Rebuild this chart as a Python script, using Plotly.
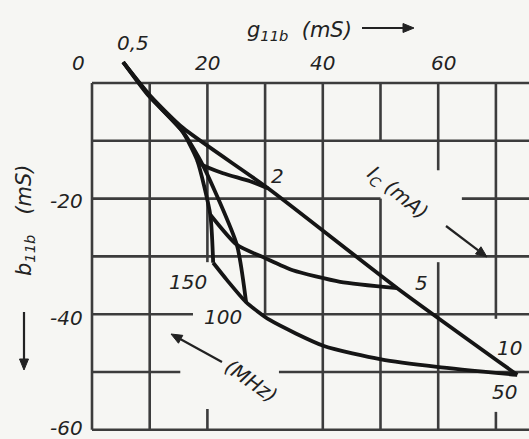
import math
import plotly.graph_objects as go

# ---- data (g11b, b11b in mS) ----
# constant-frequency curves, points from Ic = 0.5 mA to 10 mA
g_f50 = [5.4, 10.1, 15.8, 30.5, 52.9, 73.7]
b_f50 = [3.6, -2.2, -7.8, -18.2, -35.5, -50.5]
g_f100 = [5.4, 10.1, 15.8, 19.2, 25.1, 26.7]
b_f100 = [3.6, -2.4, -8.5, -14.2, -28.0, -37.9]
g_f150 = [5.4, 9.7, 15.6, 18.2, 20.5, 21.0]
b_f150 = [3.6, -2.1, -8.3, -13.3, -22.8, -31.1]
# constant-current curves, from 150 MHz to 50 MHz
g_i2 = [18.2, 19.2, 22.7, 27.4, 30.5]
b_i2 = [-13.3, -14.2, -15.6, -17.0, -18.2]
g_i5 = [20.5, 25.1, 30.0, 34.8, 43.0, 52.9]
b_i5 = [-22.8, -28.0, -30.3, -32.4, -34.4, -35.5]
g_i10 = [21.0, 23.4, 26.7, 30.8, 40.2, 50.1, 59.8, 73.7]
b_i10 = [-31.1, -34.1, -37.9, -41.0, -45.5, -47.8, -49.1, -50.5]

x_ticks = [0, 20, 40, 60]
x_tick_labels = ["0", "20", "40", "60"]
y_ticks = [-20, -40, -60]
y_tick_labels = ["-20", "-40", "-60"]

current_labels = ["0,5", "2", "5", "10"]
freq_labels = ["50", "100", "150"]

# ---- layout geometry (pixel mapping) ----
W, H = 529, 439
X0PX, SX = 92.0, 5.77    # px of g=0, px per mS
Y0PX, SY = 83.0, 5.78    # px of b=0, px per mS
XR = [(0 - X0PX) / SX, (W - X0PX) / SX]
YR = [-(H - Y0PX) / SY, Y0PX / SY]


def gx(px):
    return (px - X0PX) / SX


def by(py):
    return -(py - Y0PX) / SY


INK = "#151515"
GRID = "#3c3c3c"
TXT = "#222222"
FONT = "DejaVu Sans"

fig = go.Figure()

for g, b in [(g_f50, b_f50), (g_f100, b_f100), (g_f150, b_f150),
             (g_i2, b_i2), (g_i5, b_i5), (g_i10, b_i10)]:
    fig.add_trace(go.Scatter(x=g, y=b, mode="lines",
                             line=dict(color=INK, width=3.8, shape="spline", smoothing=0.6),
                             showlegend=False, hoverinfo="skip"))

# grid segments (some interrupted by lettering, as in the original)
xe = XR[1]
segs = [
    # verticals
    (0, 0, 0, -60), (10, 0, 10, -60), (20, 0, 20, -31), (20, -56.4, 20, -60),
    (30, 0, 30, -40), (40, 0, 40, -60), (50, 0, 50, -10.2), (50, -20, 50, -60),
    (60, 0, 60, -15.1), (60, -31, 60, -60), (70, 0, 70, -40.8), (70, -56.9, 70, -60),
    # horizontals
    (0, 0, xe, 0), (0, -10, xe, -10), (0, -20, 50, -20), (64.1, -20, xe, -20),
    (0, -30, xe, -30), (0, -40, 17.5, -40), (29.5, -40, xe, -40),
    (0, -50, 15.3, -50), (32.4, -50, xe, -50), (0, -60, xe, -60),
]
shapes = [dict(type="line", x0=a, y0=b, x1=c, y1=d, xref="x", yref="y",
               line=dict(color=GRID, width=2.6), layer="below") for a, b, c, d in segs]


def arrow(hx, hy, tx, ty, L=11, hw=4.5):
    """arrow drawn as shapes, head at pixel (hx,hy), tail at (tx,ty)"""
    d = math.hypot(hx - tx, hy - ty)
    ux, uy = (hx - tx) / d, (hy - ty) / d
    bx, byy = hx - ux * L, hy - uy * L
    shapes.append(dict(type="line", x0=gx(tx), y0=by(ty), x1=gx(bx), y1=by(byy),
                       xref="x", yref="y", line=dict(color=TXT, width=2.2)))
    p1 = (bx - uy * hw, byy + ux * hw)
    p2 = (bx + uy * hw, byy - ux * hw)
    path = "M {} {} L {} {} L {} {} Z".format(gx(hx), by(hy), gx(p1[0]), by(p1[1]),
                                              gx(p2[0]), by(p2[1]))
    shapes.append(dict(type="path", path=path, xref="x", yref="y",
                       fillcolor=TXT, line=dict(color=TXT, width=1)))


ann = []


def txt(t, px, py, size=20, angle=0):
    ann.append(dict(text=t, x=gx(px), y=by(py), xref="x", yref="y",
                    showarrow=False, textangle=angle,
                    font=dict(family=FONT, size=size, color=TXT, style="italic"),
                    xanchor="center", yanchor="middle"))


# axis tick labels
txt(x_tick_labels[0], 78, 63)
for lab, pxx in zip(x_tick_labels[1:], [207, 322, 443]):
    txt(lab, pxx, 63)
for lab, pyy in zip(y_tick_labels, [201, 318, 428]):
    txt(lab, 66, pyy)

# axis titles
txt("g<sub>11b</sub>  (mS)", 299, 31, size=21)
arrow(414, 28, 362, 28)
txt("b<sub>11b</sub>   (mS)", 25, 220, size=21, angle=-90)
arrow(24, 370, 24, 312)

# curve labels
txt(current_labels[0], 133, 43)
txt(current_labels[1], 277, 176)
txt(current_labels[2], 421, 283)
txt(current_labels[3], 509, 348)
txt(freq_labels[0], 504, 392)
txt(freq_labels[1], 223, 317)
txt(freq_labels[2], 188, 282)

txt("I<sub>C</sub> (mA)", 397, 193, angle=39)
arrow(487, 257, 446, 226)
txt("(MHz)", 251, 381, angle=35)
arrow(171, 334, 222, 362)

fig.update_layout(
    width=W, height=H, margin=dict(l=0, r=0, t=0, b=0),
    paper_bgcolor="#f6f6f3", plot_bgcolor="#f6f6f3",
    xaxis=dict(range=XR, visible=False, fixedrange=True),
    yaxis=dict(range=YR, visible=False, fixedrange=True),
    shapes=shapes, annotations=ann, showlegend=False,
)

fig.write_html("out.html")
